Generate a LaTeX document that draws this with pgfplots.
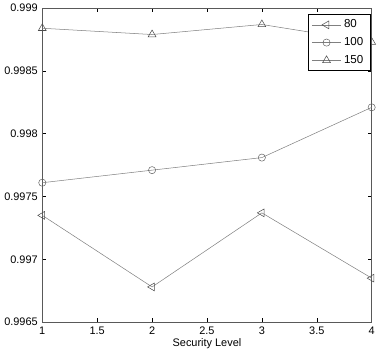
\documentclass[border=0pt]{standalone}
\usepackage{fontspec}
\setmainfont{Liberation Sans}
\usepackage{pgfplots}
\pgfplotsset{compat=1.18}
\usetikzlibrary{plotmarks}
\begin{document}
\begin{tikzpicture}
\begin{axis}[
  scale only axis,
  width=256pt, height=244pt,
  xmin=1, xmax=4, ymin=0.9965, ymax=0.999,
  xtick={1,1.5,...,4},
  ytick={0.9965,0.997,0.9975,0.998,0.9985,0.999},
  yticklabels={0.9965,0.997,0.9975,0.998,0.9985,0.999},
  xticklabel style={/pgf/number format/fixed},
  /pgf/number format/assume math mode=true,
  tick align=inside, tick pos=both,
  major tick length=3pt,
  tick label style={font=\fontsize{8.5}{10}\selectfont},
  label style={font=\fontsize{8.5}{10}\selectfont},
  xlabel={Security Level},
  xlabel style={yshift=4pt},
  axis line style={gray!70!black},
  every tick/.style={black},
  legend style={at={(0.995,0.98)}, anchor=north east, font=\fontsize{9}{11}\selectfont, draw=black, row sep=2pt},
  legend cell align=left,
  legend image code/.code={
    \draw[mark repeat=2,mark phase=2,#1] plot coordinates {(0cm,0cm) (0.4cm,0cm) (0.8cm,0cm)};
  },
]
\addplot[gray, mark=triangle, mark options={rotate=90, draw=black!70, solid}, mark size=3.5pt] coordinates {
  (1,0.99735) (2,0.99678) (3,0.99737) (4,0.99685)
};
\addlegendentry{80}
\addplot[gray, mark=o, mark options={draw=black!60}, mark size=2.8pt] coordinates {
  (1,0.99761) (2,0.99771) (3,0.99781) (4,0.99821)
};
\addlegendentry{100}
\addplot[gray, mark=triangle, mark options={draw=black!70}, mark size=3.5pt] coordinates {
  (1,0.99884) (2,0.99879) (3,0.99887) (4,0.99873)
};
\addlegendentry{150}
\end{axis}
\end{tikzpicture}
\end{document}
